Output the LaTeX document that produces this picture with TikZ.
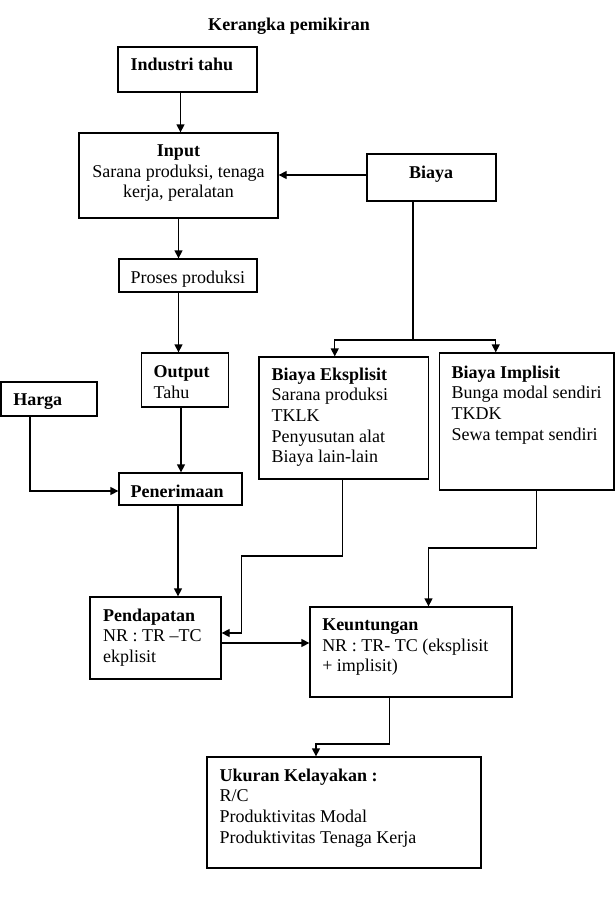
\documentclass[tikz,border=0pt]{standalone}
\usepackage{fontspec}
\setmainfont{Liberation Serif}
\usetikzlibrary{arrows.meta}

\begin{document}
\begin{tikzpicture}[x=1pt, y=-1pt, line width=1.3pt, >={Triangle[length=8pt,width=8pt]},
  box/.style={draw, rectangle, inner sep=0pt},
  txt/.style={anchor=north west, inner sep=0pt, align=left, font=\fontsize{18}{20.7}\selectfont}]
\useasboundingbox (0,0) rectangle (615,897);

\node [txt, anchor=north, font=\fontsize{18}{20.7}\selectfont\bfseries] (title) at (289,17) {Kerangka pemikiran};

\node [box, minimum width=139pt, minimum height=45pt] (ind) at (187.5,69.5) {};
\node [box, minimum width=199pt, minimum height=85pt] (inp) at (178.5,175.5) {};
\node [box, minimum width=129pt, minimum height=47pt] (biaya) at (431.5,177.5) {};
\node [box, minimum width=138pt, minimum height=33pt] (proses) at (188,275.5) {};
\node [box, minimum width=87pt, minimum height=54pt] (output) at (185,380) {};
\node [box, minimum width=96pt, minimum height=34pt] (harga) at (49,399) {};
\node [box, minimum width=123pt, minimum height=32pt] (pener) at (180.5,489) {};
\node [box, minimum width=169.5pt, minimum height=122pt] (eks) at (343.75,418) {};
\node [box, minimum width=174.5pt, minimum height=137pt] (imp) at (526.75,421.5) {};
\node [box, minimum width=131pt, minimum height=82pt] (pend) at (155.5,638) {};
\node [box, minimum width=202pt, minimum height=90pt] (keun) at (411,652) {};
\node [box, minimum width=274pt, minimum height=111pt] (ukur) at (344,812.5) {};

\node [txt] (indt) at (130,57) {\textbf{Industri tahu}};
\node [txt, anchor=north, align=center] (inpt) at (178.5,144) {\textbf{Input}\\Sarana produksi, tenaga\\kerja, peralatan};
\node [txt, anchor=north] (biayat) at (431,165) {\textbf{Biaya}};
\node [txt] (prost) at (130,270) {Proses produksi};
\node [txt] (outt) at (153,365) {\textbf{Output}\\Tahu};
\node [txt] (hargat) at (12.6,393) {\textbf{Harga}};
\node [txt] (penert) at (130,484) {\textbf{Penerimaan}};
\node [txt] (ekst) at (271,367) {\textbf{Biaya Eksplisit}\\Sarana produksi\\TKLK\\Penyusutan alat\\Biaya lain-lain};
\node [txt] (impt) at (451,365) {\textbf{Biaya Implisit}\\Bunga modal sendiri\\TKDK\\Sewa tempat sendiri};
\node [txt] (pendt) at (102.5,608) {\textbf{Pendapatan}\\NR : TR –TC\\ekplisit};
\node [txt] (keunt) at (321.6,618) {\textbf{Keuntungan}\\NR : TR- TC (eksplisit\\+ implisit)};
\node [txt] (ukurt) at (219,768) {\textbf{Ukuran Kelayakan :}\\R/C\\Produktivitas Modal\\Produktivitas Tenaga Kerja};

\coordinate (bsplit) at (413,340);
\coordinate (ebend) at (241.6,556);
\coordinate (ibend) at (428.5,548);
\coordinate (kbend) at (316,744);

\draw[->] ([xshift=-7pt]ind.south) -- ([xshift=-7pt]ind.south |- inp.north);
\draw[->] ([yshift=2.5pt]biaya.west) -- ([yshift=2.5pt]biaya.west -| inp.east);
\draw[->] (inp.south) -- (inp.south |- proses.north);
\draw[->] (inp.south |- proses.south) -- (inp.south |- output.north);
\draw ([xshift=-18.5pt]biaya.south) -- (bsplit);
\draw[->] (bsplit) -| ([xshift=-9pt]eks.north);
\draw[->] (bsplit) -| ([xshift=-31pt]imp.north);
\draw[->] ([xshift=-4pt]output.south) -- ([xshift=-4pt]output.south |- pener.north);
\draw[->] ([xshift=-19pt]harga.south) |- ([yshift=-2pt]pener.west);
\draw[->] ([xshift=-2.5pt]pener.south) -- ([xshift=-2.5pt]pener.south |- pend.north);
\draw[->] ([xshift=-1pt]eks.south) |- (ebend) |- ([yshift=5pt]pend.east);
\draw[->] ([xshift=10pt]imp.south) |- (ibend) -- (ibend |- keun.north);
\draw[->] ([yshift=-5pt]pend.east) -- ([yshift=-5pt]pend.east -| keun.west);
\draw[->] ([xshift=-21.5pt]keun.south) |- (kbend) -- (kbend |- ukur.north);
\end{tikzpicture}
\end{document}
